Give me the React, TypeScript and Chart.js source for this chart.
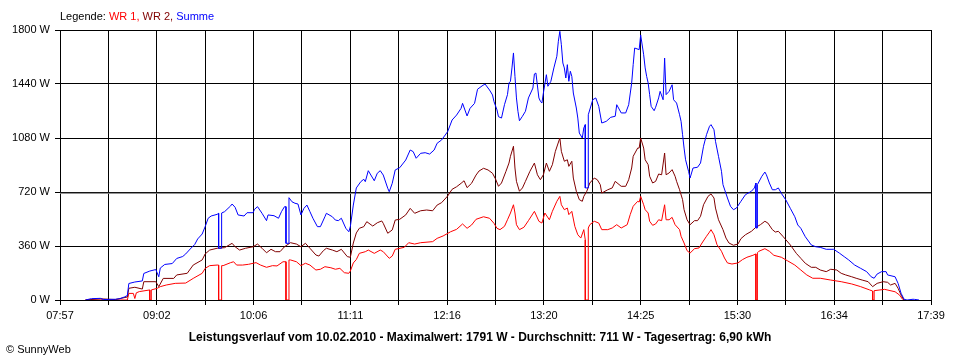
import React, { useEffect, useRef } from "react";
import { Chart, registerables } from "chart.js";
Chart.register(...registerables);

const xStart = "07:57";
const xEnd = "17:39";
const xTickLabels = ["07:57", "09:02", "10:06", "11:11", "12:16", "13:20", "14:25", "15:30", "16:34", "17:39"];
const yMin = 0;
const yMax = 1800;
const yStep = 360;
const averageW = 711;

const legendItems: [string, string][] = [["WR 1", "#ff0000"], ["WR 2", "#800000"], ["Summe", "#0000ff"]];
const titleText = "Leistungsverlauf vom 10.02.2010 - Maximalwert: 1791 W - Durchschnitt: 711 W - Tagesertrag: 6,90 kWh";

// Summe (blue)
const summe: [string, number][] = [
  ["08:14", 0], ["08:18", 9], ["08:24", 11], ["08:26", 3], ["08:34", 5], ["08:37", 9], ["08:40", 20], ["08:42", 30],
  ["08:43", 110], ["08:47", 120], ["08:52", 127], ["08:53", 177], ["08:57", 193], ["09:01", 203], ["09:03", 155],
  ["09:04", 213], ["09:07", 237], ["09:12", 243], ["09:15", 277], ["09:19", 290], ["09:21", 307], ["09:24", 340],
  ["09:27", 370], ["09:29", 407], ["09:32", 440], ["09:34", 489], ["09:36", 545], ["09:38", 560], ["09:42", 571],
  ["09:43", 578], ["09:43", 345], ["09:45", 345], ["09:45", 580], ["09:47", 589], ["09:51", 627], ["09:52", 640],
  ["09:54", 618], ["09:56", 567], ["10:00", 560], ["10:02", 582], ["10:06", 582], ["10:07", 605], ["10:09", 622],
  ["10:12", 578], ["10:15", 529], ["10:16", 567], ["10:20", 562], ["10:23", 545], ["10:25", 589], ["10:27", 622],
  ["10:28", 622], ["10:28", 378], ["10:30", 378], ["10:30", 682], ["10:32", 655], ["10:34", 645], ["10:36", 640],
  ["10:38", 567], ["10:40", 611], ["10:42", 633], ["10:44", 589], ["10:46", 545], ["10:49", 489], ["10:51", 489],
  ["10:54", 555], ["10:55", 578], ["10:59", 555], ["11:01", 533], ["11:03", 529], ["11:05", 545], ["11:08", 478],
  ["11:10", 455], ["11:11", 489], ["11:13", 633], ["11:15", 747], ["11:18", 789], ["11:20", 805], ["11:21", 789],
  ["11:23", 862], ["11:27", 795], ["11:29", 845], ["11:31", 862], ["11:33", 833], ["11:36", 745], ["11:37", 722],
  ["11:39", 778], ["11:41", 867], ["11:44", 882], ["11:48", 933], ["11:51", 1000], ["11:53", 989], ["11:55", 945],
  ["11:58", 978], ["12:01", 982], ["12:04", 973], ["12:07", 1000], ["12:09", 1045], ["12:12", 1067], ["12:16", 1122],
  ["12:19", 1200], ["12:22", 1233], ["12:25", 1278], ["12:26", 1311], ["12:29", 1227], ["12:31", 1278], ["12:34", 1311],
  ["12:36", 1405], ["12:39", 1427], ["12:41", 1440], ["12:44", 1400], ["12:46", 1367], ["12:47", 1322], ["12:49", 1267],
  ["12:50", 1222], ["12:52", 1213], ["12:54", 1302], ["12:56", 1369], ["12:57", 1447], ["12:58", 1458], ["12:59", 1547],
  ["13:00", 1647], ["13:01", 1491], ["13:02", 1347], ["13:03", 1258], ["13:04", 1195], ["13:06", 1225], ["13:08", 1258],
  ["13:10", 1347], ["13:13", 1413], ["13:14", 1507], ["13:15", 1513], ["13:17", 1347], ["13:18", 1325], ["13:19", 1313],
  ["13:20", 1380], ["13:22", 1502], ["13:23", 1425], ["13:25", 1458], ["13:27", 1547], ["13:29", 1625], ["13:30", 1725],
  ["13:31", 1791], ["13:32", 1702], ["13:33", 1580], ["13:34", 1547], ["13:35", 1480], ["13:36", 1569], ["13:37", 1458],
  ["13:38", 1525], ["13:39", 1491], ["13:40", 1380], ["13:42", 1280], ["13:43", 1213], ["13:44", 1113], ["13:46", 1080],
  ["13:47", 1147], ["13:48", 1169], ["13:48", 747], ["13:50", 747], ["13:50", 1235], ["13:53", 1335], ["13:55", 1347],
  ["13:57", 1291], ["13:59", 1180], ["14:02", 1191], ["14:05", 1218], ["14:08", 1225], ["14:09", 1302], ["14:12", 1247],
  ["14:15", 1247], ["14:17", 1302], ["14:19", 1447], ["14:20", 1569], ["14:21", 1680], ["14:24", 1669], ["14:25", 1767],
  ["14:27", 1635], ["14:28", 1547], ["14:29", 1491], ["14:30", 1447], ["14:31", 1369], ["14:32", 1291], ["14:34", 1262],
  ["14:35", 1285], ["14:37", 1347], ["14:38", 1391], ["14:40", 1335], ["14:41", 1613], ["14:42", 1369], ["14:44", 1391],
  ["14:46", 1435], ["14:47", 1335], ["14:49", 1313], ["14:51", 1235], ["14:52", 1191], ["14:53", 1102], ["14:54", 1013],
  ["14:55", 935], ["14:57", 858], ["14:58", 813], ["15:00", 880], ["15:03", 885], ["15:05", 913], ["15:07", 1025],
  ["15:09", 1102], ["15:11", 1158], ["15:12", 1169], ["15:14", 1135], ["15:15", 1058], ["15:17", 958], ["15:19", 858],
  ["15:20", 769], ["15:23", 680], ["15:25", 625], ["15:27", 602], ["15:29", 613], ["15:32", 658], ["15:35", 702],
  ["15:39", 725], ["15:41", 747], ["15:42", 780], ["15:42", 480], ["15:43", 480], ["15:43", 769], ["15:46", 825],
  ["15:48", 853], ["15:49", 835], ["15:51", 780], ["15:53", 735], ["15:55", 735], ["15:57", 747], ["15:59", 711],
  ["16:02", 667], ["16:05", 611], ["16:08", 555], ["16:10", 500], ["16:12", 478], ["16:15", 422], ["16:19", 367],
  ["16:22", 355], ["16:25", 351], ["16:29", 338], ["16:34", 338], ["16:38", 311], ["16:41", 289], ["16:44", 267],
  ["16:48", 233], ["16:52", 211], ["16:56", 189], ["16:59", 155], ["17:01", 145], ["17:03", 173], ["17:06", 189],
  ["17:09", 189], ["17:10", 167], ["17:15", 155], ["17:17", 111], ["17:19", 45], ["17:21", 5], ["17:23", 0],
  ["17:27", 5], ["17:28", 4], ["17:31", 0],
];

// WR 2 (dark red)
const wr2: [string, number][] = [
  ["08:14", 0], ["08:24", 8], ["08:34", 3], ["08:42", 20], ["08:43", 78], ["08:47", 85], ["08:52", 73], ["08:53", 122],
  ["09:01", 122], ["09:03", 89], ["09:06", 144], ["09:13", 144], ["09:15", 167], ["09:22", 178], ["09:26", 233],
  ["09:32", 267], ["09:34", 307], ["09:37", 333], ["09:42", 345], ["09:47", 349], ["09:52", 378], ["09:54", 355],
  ["09:57", 333], ["10:01", 345], ["10:06", 355], ["10:09", 373], ["10:12", 345], ["10:15", 315], ["10:18", 338],
  ["10:21", 322], ["10:24", 322], ["10:27", 355], ["10:31", 382], ["10:35", 373], ["10:38", 355], ["10:41", 378],
  ["10:44", 345], ["10:48", 300], ["10:50", 293], ["10:53", 329], ["10:55", 345], ["10:59", 333], ["11:02", 322],
  ["11:05", 338], ["11:09", 289], ["11:11", 285], ["11:13", 380], ["11:15", 447], ["11:17", 478], ["11:20", 489],
  ["11:22", 522], ["11:26", 493], ["11:29", 515], ["11:32", 527], ["11:33", 511], ["11:36", 445], ["11:39", 467],
  ["11:41", 533], ["11:44", 538], ["11:48", 567], ["11:51", 611], ["11:54", 578], ["11:58", 595], ["12:02", 600],
  ["12:06", 595], ["12:09", 633], ["12:12", 649], ["12:16", 693], ["12:19", 738], ["12:22", 755], ["12:25", 778],
  ["12:27", 795], ["12:29", 749], ["12:32", 778], ["12:35", 833], ["12:37", 860], ["12:40", 878], ["12:43", 867],
  ["12:46", 845], ["12:48", 807], ["12:50", 758], ["12:52", 780], ["12:55", 858], ["12:57", 913], ["12:58", 958],
  ["13:00", 1025], ["13:01", 880], ["13:02", 791], ["13:04", 725], ["13:06", 747], ["13:08", 791], ["13:11", 858],
  ["13:14", 913], ["13:16", 835], ["13:18", 802], ["13:20", 835], ["13:22", 913], ["13:24", 858], ["13:26", 902],
  ["13:28", 991], ["13:31", 1080], ["13:32", 991], ["13:34", 925], ["13:36", 935], ["13:37", 891], ["13:39", 925],
  ["13:40", 813], ["13:42", 725], ["13:44", 669], ["13:46", 658], ["13:47", 691], ["13:49", 725], ["13:51", 780],
  ["13:54", 813], ["13:56", 802], ["13:58", 769], ["13:59", 713], ["14:03", 735], ["14:06", 747], ["14:08", 791],
  ["14:12", 758], ["14:15", 758], ["14:17", 802], ["14:19", 880], ["14:20", 958], ["14:23", 1013], ["14:24", 1013],
  ["14:25", 1080], ["14:27", 1013], ["14:28", 935], ["14:30", 902], ["14:31", 825], ["14:33", 780], ["14:35", 791],
  ["14:37", 840], ["14:39", 835], ["14:41", 980], ["14:42", 835], ["14:44", 847], ["14:46", 869], ["14:48", 825],
  ["14:49", 791], ["14:51", 735], ["14:53", 669], ["14:54", 602], ["14:56", 535], ["14:58", 502], ["15:01", 529],
  ["15:03", 529], ["15:05", 558], ["15:07", 635], ["15:10", 691], ["15:12", 707], ["15:14", 680], ["15:15", 613],
  ["15:17", 535], ["15:20", 469], ["15:22", 413], ["15:24", 380], ["15:27", 365], ["15:30", 373], ["15:32", 409],
  ["15:35", 435], ["15:39", 458], ["15:42", 485], ["15:45", 502], ["15:48", 525], ["15:50", 513], ["15:53", 469],
  ["15:55", 453], ["15:57", 458], ["16:00", 425], ["16:02", 402], ["16:05", 367], ["16:09", 311], ["16:12", 278],
  ["16:15", 245], ["16:19", 218], ["16:22", 218], ["16:25", 200], ["16:29", 189], ["16:32", 205], ["16:36", 200],
  ["16:39", 178], ["16:42", 167], ["16:46", 155], ["16:49", 145], ["16:53", 133], ["16:57", 122], ["17:00", 89],
  ["17:03", 111], ["17:07", 122], ["17:10", 118], ["17:12", 100], ["17:15", 111], ["17:17", 78], ["17:19", 33],
  ["17:21", 0],
];

// WR 1 (red)
const wr1: [string, number][] = [
  ["08:14", 0], ["08:42", 0], ["08:43", 44], ["08:46", 44], ["08:47", 10], ["08:48", 48], ["08:50", 56], ["08:57", 67],
  ["08:57", 0], ["08:58", 0], ["08:58", 67], ["09:02", 78], ["09:04", 89], ["09:08", 100], ["09:14", 111], ["09:21", 113],
  ["09:26", 144], ["09:32", 178], ["09:34", 211], ["09:37", 229], ["09:42", 233], ["09:43", 233], ["09:43", 0],
  ["09:45", 0], ["09:45", 229], ["09:46", 229], ["09:51", 249], ["09:53", 255], ["09:55", 233], ["09:59", 233],
  ["10:03", 238], ["10:08", 249], ["10:11", 233], ["10:15", 218], ["10:19", 229], ["10:22", 227], ["10:26", 255],
  ["10:28", 255], ["10:28", 0], ["10:30", 0], ["10:30", 267], ["10:31", 267], ["10:35", 255], ["10:38", 229],
  ["10:41", 245], ["10:44", 233], ["10:48", 200], ["10:51", 205], ["10:54", 222], ["10:58", 215], ["11:01", 205],
  ["11:04", 211], ["11:07", 182], ["11:10", 178], ["11:11", 193], ["11:13", 247], ["11:15", 270], ["11:17", 311],
  ["11:21", 322], ["11:23", 333], ["11:27", 311], ["11:31", 333], ["11:33", 322], ["11:37", 278], ["11:39", 293],
  ["11:41", 338], ["11:47", 351], ["11:50", 382], ["11:54", 373], ["11:58", 382], ["12:06", 389], ["12:09", 411],
  ["12:13", 427], ["12:18", 455], ["12:22", 471], ["12:26", 507], ["12:29", 478], ["12:32", 500], ["12:35", 538],
  ["12:40", 555], ["12:44", 545], ["12:47", 511], ["12:49", 478], ["12:51", 469], ["12:54", 491], ["12:56", 535],
  ["12:58", 580], ["13:00", 635], ["13:01", 580], ["13:02", 502], ["13:04", 469], ["13:07", 485], ["13:10", 529],
  ["13:14", 591], ["13:17", 525], ["13:19", 513], ["13:21", 580], ["13:24", 535], ["13:26", 591], ["13:29", 658],
  ["13:31", 691], ["13:32", 635], ["13:34", 602], ["13:36", 613], ["13:37", 569], ["13:39", 591], ["13:41", 491],
  ["13:43", 435], ["13:45", 413], ["13:47", 469], ["13:48", 400], ["13:48", 0], ["13:50", 0], ["13:50", 480],
  ["13:51", 502], ["13:54", 525], ["13:57", 513], ["13:59", 469], ["14:03", 469], ["14:06", 480], ["14:09", 502],
  ["14:12", 480], ["14:16", 502], ["14:18", 569], ["14:20", 625], ["14:23", 658], ["14:24", 653], ["14:25", 691],
  ["14:27", 635], ["14:28", 602], ["14:30", 580], ["14:31", 525], ["14:33", 498], ["14:35", 507], ["14:37", 535],
  ["14:39", 529], ["14:41", 635], ["14:42", 535], ["14:44", 535], ["14:46", 551], ["14:48", 502], ["14:51", 469],
  ["14:52", 425], ["14:54", 380], ["14:56", 329], ["14:58", 313], ["15:01", 342], ["15:04", 347], ["15:06", 380],
  ["15:09", 425], ["15:11", 453], ["15:12", 469], ["15:14", 435], ["15:16", 369], ["15:19", 325], ["15:21", 280],
  ["15:23", 247], ["15:26", 240], ["15:30", 247], ["15:33", 269], ["15:36", 285], ["15:40", 298], ["15:42", 307],
  ["15:42", 0], ["15:43", 0], ["15:43", 315], ["15:44", 325], ["15:48", 342], ["15:51", 325], ["15:54", 298],
  ["15:59", 285], ["16:03", 262], ["16:08", 233], ["16:12", 200], ["16:16", 167], ["16:20", 145], ["16:25", 145],
  ["16:32", 133], ["16:39", 122], ["16:46", 107], ["16:52", 89], ["16:58", 67], ["17:00", 60], ["17:00", 0],
  ["17:01", 0], ["17:01", 62], ["17:08", 71], ["17:15", 55], ["17:18", 33], ["17:20", 5], ["17:21", 0],
];

const FONT = "'Liberation Sans', Arial, sans-serif";

const toMin = (t: string) => {
  const [h, m] = t.split(":").map(Number);
  return h * 60 + m;
};
const toPoints = (s: [string, number][]) => s.map(([t, w]) => ({ x: toMin(t), y: w }));

export default function App() {
  const ref = useRef<HTMLCanvasElement>(null);

  useEffect(() => {
    document.body.style.margin = "0";
    const x0 = toMin(xStart);
    const x1 = toMin(xEnd);
    const nTicks = (xTickLabels.length - 1) * 2;
    const step = (x1 - x0) / nTicks;

    const chart = new Chart(ref.current as HTMLCanvasElement, {
      type: "line",
      data: {
        datasets: [
          { label: "Summe", data: toPoints(summe), borderColor: "#0000ff", order: 0 },
          { label: "WR 2", data: toPoints(wr2), borderColor: "#800000", order: 1 },
          { label: "WR 1", data: toPoints(wr1), borderColor: "#ff0000", order: 2 },
          {
            label: "Durchschnitt",
            data: [{ x: x0, y: averageW }, { x: x1, y: averageW }],
            borderColor: "#808080",
            order: 3,
          },
        ],
      },
      options: {
        animation: false,
        responsive: false,
        events: [],
        elements: {
          point: { radius: 0 },
          line: { borderWidth: 1, tension: 0, fill: false },
        },
        layout: { padding: { left: 0, right: 29, top: 30, bottom: 30 } },
        plugins: {
          legend: { display: false },
          tooltip: { enabled: false },
          title: { display: false },
        },
        scales: {
          x: {
            type: "linear",
            min: x0,
            max: x1,
            afterBuildTicks: (s: any) => {
              s.ticks = Array.from({ length: nTicks + 1 }, (_, i) => ({ value: x0 + i * step }));
            },
            afterFit: (s: any) => {
              s.height = 30;
            },
            ticks: {
              autoSkip: false,
              maxRotation: 0,
              minRotation: 0,
              padding: 4,
              color: "#000",
              font: { family: FONT, size: 11 },
              callback: (_v: any, i: number) => (i % 2 === 0 ? xTickLabels[i / 2] : ""),
            },
            grid: { color: "#000", lineWidth: 1, tickLength: 5, drawTicks: true },
            border: { color: "#000", width: 1 },
          },
          y: {
            min: yMin,
            max: yMax,
            afterFit: (s: any) => {
              s.width = 60;
            },
            ticks: {
              stepSize: yStep,
              padding: 5,
              color: "#000",
              font: { family: FONT, size: 11 },
              callback: (v: any) => `${v} W`,
            },
            grid: { color: "#000", lineWidth: 1, tickLength: 5, drawTicks: true },
            border: { color: "#000", width: 1 },
          },
        },
      },
    });
    return () => chart.destroy();
  }, []);

  return (
    <div style={{ position: "relative", width: 960, height: 360, background: "#fff", fontFamily: FONT }}>
      <canvas ref={ref} width={960} height={360} style={{ display: "block" }} />
      <div style={{ position: "absolute", left: 60, top: 9, fontSize: 11, lineHeight: "14px", whiteSpace: "nowrap" }}>
        <span style={{ color: "#000" }}>Legende: </span>
        {legendItems.map(([name, color], i) => (
          <span key={name} style={{ color }}>
            {name}
            {i < legendItems.length - 1 ? ", " : ""}
          </span>
        ))}
      </div>
      <div
        style={{
          position: "absolute",
          left: 0,
          width: 960,
          top: 330,
          textAlign: "center",
          fontSize: 12,
          fontWeight: "bold",
          lineHeight: "14px",
          whiteSpace: "nowrap",
        }}
      >
        {titleText}
      </div>
      <div style={{ position: "absolute", left: 6, top: 342, fontSize: 11, lineHeight: "14px" }}>© SunnyWeb</div>
    </div>
  );
}
